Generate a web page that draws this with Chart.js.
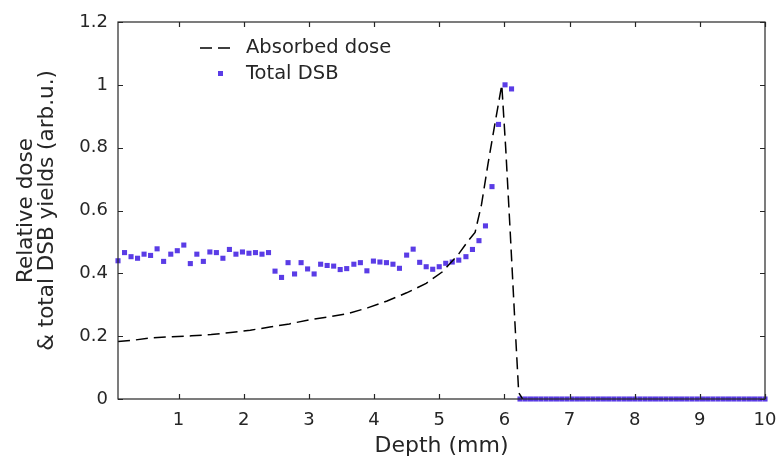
<!DOCTYPE html>
<html>
<head>
<meta charset="utf-8">
<script src="https://cdn.jsdelivr.net/npm/chart.js@4"></script>
<style>
  html, body { margin: 0; padding: 0; background: #fff; }
  #wrap { width: 778px; height: 457px; }
</style>
</head>
<body>
<div id="wrap"><canvas id="myChart" width="778" height="457"></canvas></div>
<script>
// absorbed dose curve (dashed)
const doseDepth = [0.07, 0.3, 0.6, 0.9, 1.2, 1.5, 1.8, 2.1, 2.4, 2.7, 3.0, 3.3, 3.6, 3.9, 4.2, 4.5, 4.8, 5.05, 5.3, 5.45, 5.55, 5.65, 5.75, 5.85, 5.96, 6.02, 6.09, 6.16, 6.22, 6.28];
const doseValue = [0.183, 0.187, 0.195, 0.198, 0.201, 0.205, 0.212, 0.219, 0.229, 0.239, 0.252, 0.261, 0.272, 0.29, 0.312, 0.338, 0.368, 0.405, 0.462, 0.505, 0.53, 0.62, 0.75, 0.87, 1.0, 0.8, 0.53, 0.25, 0.02, 0.0];

// total DSB yields (markers)
const dsbDepth = [0.07, 0.17, 0.27, 0.37, 0.47, 0.57, 0.67, 0.77, 0.88, 0.98, 1.08, 1.18, 1.28, 1.38, 1.48, 1.58, 1.68, 1.78, 1.88, 1.98,
  2.08, 2.18, 2.28, 2.38, 2.48, 2.58, 2.68, 2.78, 2.88, 2.98, 3.08, 3.18, 3.28, 3.38, 3.48, 3.58, 3.69, 3.79, 3.89, 3.99,
  4.09, 4.19, 4.29, 4.39, 4.50, 4.60, 4.70, 4.80, 4.90, 5.00, 5.10, 5.20, 5.30, 5.41, 5.51, 5.61, 5.71, 5.81, 5.91, 6.01, 6.11,
  6.24, 6.32, 6.40, 6.48, 6.56, 6.64, 6.72, 6.80, 6.88, 6.96, 7.04, 7.12, 7.20, 7.28, 7.36, 7.44, 7.52, 7.60, 7.68, 7.76,
  7.84, 7.92, 8.00, 8.08, 8.16, 8.24, 8.32, 8.40, 8.48, 8.56, 8.64, 8.72, 8.80, 8.88, 8.96, 9.04, 9.12, 9.20, 9.28, 9.36,
  9.44, 9.52, 9.60, 9.68, 9.76, 9.84, 9.92, 10.0];
const dsbValue = [0.44, 0.466, 0.453, 0.448, 0.461, 0.457, 0.478, 0.438, 0.461, 0.472, 0.49, 0.431, 0.461, 0.438, 0.468, 0.466, 0.448, 0.476, 0.461, 0.468,
  0.464, 0.466, 0.461, 0.466, 0.407, 0.387, 0.434, 0.398, 0.434, 0.414, 0.398, 0.429, 0.425, 0.423, 0.412, 0.415, 0.429, 0.434, 0.408, 0.439,
  0.436, 0.434, 0.429, 0.416, 0.458, 0.477, 0.435, 0.421, 0.413, 0.421, 0.432, 0.436, 0.442, 0.453, 0.476, 0.504, 0.551, 0.676, 0.874, 1.0, 0.987,
  0, 0, 0, 0, 0, 0, 0, 0, 0, 0, 0, 0, 0, 0, 0, 0, 0, 0, 0, 0,
  0, 0, 0, 0, 0, 0, 0, 0, 0, 0, 0, 0, 0, 0, 0, 0, 0, 0, 0, 0,
  0, 0, 0, 0, 0, 0, 0, 0];

const xTicks = [1, 2, 3, 4, 5, 6, 7, 8, 9, 10];
const yTicks = [0, 0.2, 0.4, 0.6, 0.8, 1, 1.2];
const xMin = 0.07, xMax = 10, yMin = 0, yMax = 1.2;

const legendLabels = ["Absorbed dose", "Total DSB"];
const xTitle = "Depth (mm)";
const yTitle = ["Relative dose", "& total DSB yields (arb.u.)"];

const textColor = "#262626";
const markerColor = "#5a3ce6";
const fontFamily = "'DejaVu Sans', sans-serif";

const doseData = doseDepth.map((d, i) => ({x: d, y: doseValue[i]}));
const dsbData = dsbDepth.map((d, i) => ({x: d, y: dsbValue[i]}));

// box frame, inward ticks on all sides, and the legend
const framePlugin = {
  id: "frame",
  afterDatasetsDraw(chart) {
    const {ctx, chartArea: a, scales} = chart;
    const len = 5;
    ctx.save();
    ctx.strokeStyle = textColor;
    ctx.lineWidth = 1.2;
    ctx.strokeRect(a.left, a.top, a.right - a.left, a.bottom - a.top);
    ctx.beginPath();
    xTicks.forEach(v => {
      const px = Math.round(scales.x.getPixelForValue(v)) + 0.5;
      ctx.moveTo(px, a.bottom); ctx.lineTo(px, a.bottom - len);
      ctx.moveTo(px, a.top); ctx.lineTo(px, a.top + len);
    });
    yTicks.forEach(v => {
      const py = Math.round(scales.y.getPixelForValue(v)) + 0.5;
      ctx.moveTo(a.left, py); ctx.lineTo(a.left + len, py);
      ctx.moveTo(a.right, py); ctx.lineTo(a.right - len, py);
    });
    ctx.stroke();

    // legend
    const lx = a.left + 82, ly = a.top + 26;
    ctx.strokeStyle = "#000";
    ctx.lineWidth = 1.5;
    ctx.setLineDash([12, 6]);
    ctx.beginPath();
    ctx.moveTo(lx, ly); ctx.lineTo(lx + 32, ly);
    ctx.stroke();
    ctx.setLineDash([]);
    ctx.fillStyle = markerColor;
    ctx.fillRect(lx + 18, ly + 23, 5, 5);
    ctx.fillStyle = textColor;
    ctx.font = "19.5px " + fontFamily;
    ctx.textBaseline = "middle";
    ctx.fillText(legendLabels[0], lx + 46, ly);
    ctx.fillText(legendLabels[1], lx + 46, ly + 26);
    ctx.restore();
  }
};

const ctx = document.getElementById("myChart").getContext("2d");
const myChart = new Chart(ctx, {
  type: "scatter",
  data: {
    datasets: [
      {
        label: legendLabels[0],
        type: "line",
        data: doseData,
        borderColor: "#000",
        borderWidth: 1.5,
        borderDash: [12, 6],
        pointRadius: 0,
        fill: false,
        tension: 0,
        order: 0
      },
      {
        label: legendLabels[1],
        data: dsbData,
        pointStyle: "rect",
        pointRadius: 3.6,
        backgroundColor: markerColor,
        borderColor: markerColor,
        borderWidth: 0,
        clip: false,
        order: 1
      }
    ]
  },
  options: {
    responsive: false,
    animation: false,
    layout: {padding: {top: 22, right: 13, left: 0, bottom: 0}},
    plugins: {legend: {display: false}, tooltip: {enabled: false}},
    scales: {
      x: {
        type: "linear",
        min: xMin, max: xMax,
        afterBuildTicks: s => { s.ticks = xTicks.map(v => ({value: v})); },
        afterFit: s => { s.height = 58; s.paddingLeft = 0; s.paddingRight = 0; },
        grid: {display: false, drawTicks: false},
        border: {display: false},
        ticks: {color: textColor, padding: 11, font: {family: fontFamily, size: 18}, callback: v => String(v)},
        title: {display: true, text: xTitle, color: textColor, padding: {top: 0, bottom: 0}, font: {family: fontFamily, size: 22, lineHeight: 1.0}}
      },
      y: {
        type: "linear",
        min: yMin, max: yMax,
        afterBuildTicks: s => { s.ticks = yTicks.map(v => ({value: v})); },
        afterFit: s => { s.width = 118; s.paddingTop = 0; s.paddingBottom = 0; },
        grid: {display: false, drawTicks: false},
        border: {display: false},
        ticks: {color: textColor, padding: 10, font: {family: fontFamily, size: 18}, callback: v => String(v)},
        title: {display: true, text: yTitle, color: textColor, padding: {top: 16, bottom: 0}, font: {family: fontFamily, size: 21.5, lineHeight: 0.97}}
      }
    }
  },
  plugins: [framePlugin]
});
</script>
</body>
</html>
